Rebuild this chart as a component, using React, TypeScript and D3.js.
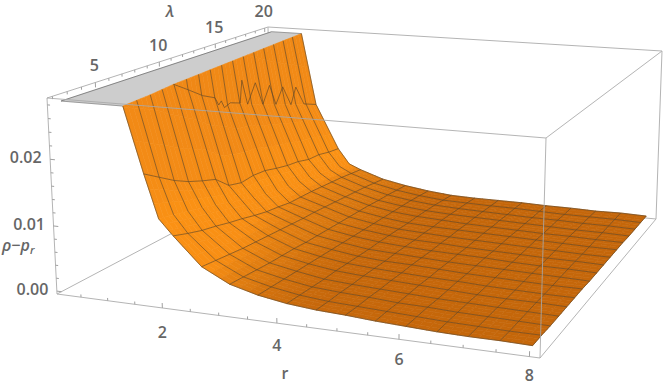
import React, { useEffect, useRef } from 'react'
import * as d3 from 'd3'

// lambda rows of the sampled surface, r columns (1.9 has no mesh line)
const lambdaValues = [2, 3.125, 4.25, 5.375, 6.5, 7.625, 8.75, 9.875, 11, 12.125, 13.25, 14.375, 15.5, 16.625, 17.75, 18.875, 20]
const rValues = [0.2, 0.69, 1.175, 1.66, 1.9, 2.15, 2.64, 3.125, 3.61, 4.1, 4.59, 5.075, 5.56, 6.05, 6.54, 7.025, 7.51, 8]

const zR020 = [0.095, 0.094, 0.093, 0.092, 0.09, 0.088, 0.086, 0.085, 0.083, 0.081, 0.08, 0.078, 0.076, 0.075, 0.074, 0.072, 0.07]
const zR069 = [0.06, 0.059, 0.058, 0.056, 0.054, 0.0566, 0.0565, 0.0522, 0.0528, 0.0479, 0.0458, 0.0436, 0.0417, 0.0401, 0.0387, 0.0373, 0.0361]
const zR118 = [0.0329, 0.0322, 0.0315, 0.0298, 0.0283, 0.0268, 0.0251, 0.0239, 0.0219, 0.0214, 0.0204, 0.0196, 0.0187, 0.0179, 0.0171, 0.0163, 0.0154]
const zR166 = [0.0188, 0.0173, 0.0158, 0.0146, 0.0137, 0.0129, 0.0109, 0.0103, 0.0105, 0.0103, 0.0097, 0.0092, 0.0089, 0.0083, 0.0082, 0.0077, 0.0074]
const zR190 = [0.0124, 0.0119, 0.0113, 0.0108, 0.0101, 0.0094, 0.0087, 0.008, 0.0076, 0.0071, 0.0068, 0.0066, 0.0063, 0.006, 0.0056, 0.0052, 0.0047]
const zR215 = [0.0101, 0.0093, 0.0086, 0.0081, 0.0075, 0.007, 0.0064, 0.0059, 0.0056, 0.0052, 0.0051, 0.005, 0.0048, 0.0046, 0.0044, 0.0041, 0.0038]
const zR264 = [0.006, 0.0057, 0.0054, 0.0051, 0.0049, 0.0047, 0.0045, 0.0043, 0.0041, 0.004, 0.0038, 0.0036, 0.0034, 0.0032, 0.003, 0.0027, 0.0024]
const zR313 = [0.0039, 0.0037, 0.0035, 0.0033, 0.0032, 0.0031, 0.0029, 0.0028, 0.0027, 0.0026, 0.0025, 0.0024, 0.0023, 0.0021, 0.002, 0.0018, 0.0016]
const zR361 = [0.0028, 0.0027, 0.0026, 0.0025, 0.0024, 0.0023, 0.0022, 0.0021, 0.002, 0.0019, 0.0018, 0.0017, 0.0016, 0.0015, 0.0014, 0.0012, 0.001]
const zR410 = [0.0021, 0.002, 0.0019, 0.0018, 0.0018, 0.0017, 0.0016, 0.0015, 0.0015, 0.0014, 0.0013, 0.0012, 0.0012, 0.0011, 0.001, 0.0008, 0.0006]
const zR459 = [0.0017, 0.0016, 0.0016, 0.0015, 0.0015, 0.0014, 0.0013, 0.0013, 0.0012, 0.0011, 0.0011, 0.001, 0.001, 0.0009, 0.0008, 0.0007, 0.0005]
const zR508 = [0.0015, 0.0014, 0.0014, 0.0013, 0.0013, 0.0012, 0.0012, 0.0011, 0.001, 0.001, 0.0009, 0.0009, 0.0008, 0.0008, 0.0007, 0.0006, 0.0005]
const zR556 = [0.0012, 0.0012, 0.0011, 0.0011, 0.0011, 0.001, 0.001, 0.0009, 0.0009, 0.0008, 0.0008, 0.0008, 0.0007, 0.0007, 0.0006, 0.0006, 0.0005]
const zR605 = [0.001, 0.001, 0.001, 0.0009, 0.0009, 0.0009, 0.0008, 0.0008, 0.0008, 0.0007, 0.0007, 0.0007, 0.0006, 0.0006, 0.0005, 0.0005, 0.0004]
const zR654 = [0.0008, 0.0008, 0.0008, 0.0008, 0.0007, 0.0007, 0.0007, 0.0007, 0.0006, 0.0006, 0.0006, 0.0006, 0.0005, 0.0005, 0.0005, 0.0004, 0.0004]
const zR703 = [0.0007, 0.0007, 0.0007, 0.0007, 0.0006, 0.0006, 0.0006, 0.0006, 0.0005, 0.0005, 0.0005, 0.0005, 0.0005, 0.0004, 0.0004, 0.0004, 0.0003]
const zR751 = [0.0007, 0.0006, 0.0006, 0.0006, 0.0006, 0.0005, 0.0005, 0.0005, 0.0005, 0.0005, 0.0004, 0.0004, 0.0004, 0.0004, 0.0004, 0.0004, 0.0004]
const zR800 = [0.0006, 0.0006, 0.0005, 0.0005, 0.0005, 0.0005, 0.0005, 0.0004, 0.0004, 0.0004, 0.0004, 0.0004, 0.0004, 0.0003, 0.0003, 0.0003, 0.0003]
const zColumns = [zR020, zR069, zR118, zR166, zR190, zR215, zR264, zR313, zR361, zR410, zR459, zR508, zR556, zR605, zR654, zR703, zR751, zR800]

// the noisy mesh line at r = 1.175, sampled finer than the grid
const jagR = 1.175
const jagLambda = [6.47, 7.54, 8.83, 9.89, 10.2, 10.44, 10.71, 11.26, 12.16, 12.36, 12.86, 13.64, 14.34, 15.04, 15.66, 16.39, 17.23, 17.78, 18.64, 20]
const jagZ = [0.0284, 0.0269, 0.025, 0.0239, 0.0225, 0.023, 0.0217, 0.0221, 0.0214, 0.0251, 0.0207, 0.0238, 0.0196, 0.0224, 0.0186, 0.0212, 0.0174, 0.0202, 0.0165, 0.0154]

const rTicks = [2, 4, 6, 8]
const rMinor = [0.5, 1, 1.5, 2.5, 3, 3.5, 4.5, 5, 5.5, 6.5, 7, 7.5]
const lambdaTicks = [5, 10, 15, 20]
const lambdaMinor = [2, 3, 4, 6, 7, 8, 9, 11, 12, 13, 14, 16, 17, 18, 19]
const zTicks = [0, 0.01, 0.02]
const zMinor = [0.002, 0.004, 0.006, 0.008, 0.012, 0.014, 0.016, 0.018, 0.022, 0.024, 0.026, 0.028]

const rDomain = [0.044, 8.156]
const lambdaDomain = [1.64, 20.36]
const zDomain = [-0.00045, 0.029]
const zClip = 0.0284

const rScale = d3.scaleLinear().domain(rDomain).range([0, 1])
const lambdaScale = d3.scaleLinear().domain(lambdaDomain).range([0, 1])
const zScale = d3.scaleLinear().domain(zDomain).range([0, 1])

// box corners on screen, keyed by [r, lambda, z] 0/1
const corners = [
  { c: [0, 0, 0], p: [57, 294] },
  { c: [1, 0, 0], p: [540, 358] },
  { c: [0, 1, 0], p: [271, 181] },
  { c: [1, 1, 0], p: [656, 219] },
  { c: [0, 0, 1], p: [47, 98] },
  { c: [1, 0, 1], p: [546, 138] },
  { c: [0, 1, 1], p: [268, 27] },
  { c: [1, 1, 1], p: [662, 51] },
]

// rational trilinear map, the weights are the camera depth of each corner
function projectUnit(x, y, z) {
  let sx = 0, sy = 0, sw = 0
  corners.forEach(({ c, p }) => {
    const w = (1 - 0.122 * c[0] + 0.27 * c[1] - 0.033 * c[2]) *
      (c[0] ? x : 1 - x) * (c[1] ? y : 1 - y) * (c[2] ? z : 1 - z)
    sx += w * p[0]
    sy += w * p[1]
    sw += w
  })
  return [sx / sw, sy / sw]
}
const project = (r, l, z) => projectUnit(rScale(r), lambdaScale(l), zScale(z))

const shade = d3.scaleLinear()
  .domain([0, 0.25, 0.7, 1.6, 4, 9, 20])
  .range(['#c4660a', '#c8690b', '#dc7a10', '#f98f14', '#fb9214', '#f28a16', '#ec8616'])
  .clamp(true)

function slopeAt(i, j) {
  const i0 = Math.max(i - 1, 0), i1 = Math.min(i + 1, rValues.length - 1)
  const j0 = Math.max(j - 1, 0), j1 = Math.min(j + 1, lambdaValues.length - 1)
  const dr = (zScale(zColumns[i1][j]) - zScale(zColumns[i0][j])) / (rScale(rValues[i1]) - rScale(rValues[i0]))
  const dl = (zScale(zColumns[i][j1]) - zScale(zColumns[i][j0])) / (lambdaScale(lambdaValues[j1]) - lambdaScale(lambdaValues[j0]))
  return Math.hypot(dr, dl)
}

function clipPolygon(points) {
  const out = []
  points.forEach((a, n) => {
    const b = points[(n + 1) % points.length]
    const aIn = a[2] <= zClip, bIn = b[2] <= zClip
    if (aIn) out.push(a)
    if (aIn !== bIn) {
      const t = (zClip - a[2]) / (b[2] - a[2])
      out.push([a[0] + t * (b[0] - a[0]), a[1] + t * (b[1] - a[1]), zClip])
    }
  })
  return out
}

function clipLine(points) {
  const segments = []
  let cur = []
  points.forEach((b, n) => {
    const a = points[n - 1]
    const bIn = b[2] <= zClip
    if (a && (a[2] <= zClip) !== bIn) {
      const t = (zClip - a[2]) / (b[2] - a[2])
      const cross = [a[0] + t * (b[0] - a[0]), a[1] + t * (b[1] - a[1]), zClip]
      cur.push(cross)
      if (!bIn) {
        segments.push(cur)
        cur = []
      }
    }
    if (bIn) cur.push(b)
  })
  if (cur.length > 1) segments.push(cur)
  return segments
}

const line = d3.line()
const toPath = pts => line(pts.map(p => project(p[0], p[1], p[2])))
const polyPath = pts => toPath(pts) + 'Z'

const App = () => {
  const d3Ref = useRef(null)

  useEffect(() => {
    const svg = d3.select(d3Ref.current)
    svg.selectAll('*').remove()

    const boxColor = '#b4b4b4'
    const drawEdge = (g, a, b, color = boxColor) => {
      g.append('path')
        .attr('d', line([projectUnit(a[0], a[1], a[2]), projectUnit(b[0], b[1], b[2])]))
        .attr('fill', 'none').attr('stroke', color).attr('stroke-width', 1)
    }

    // back of the box goes under the surface
    const back = svg.append('g')
    drawEdge(back, [0, 0, 0], [0, 1, 0])
    drawEdge(back, [0, 1, 0], [1, 1, 0])
    drawEdge(back, [0, 1, 0], [0, 1, 1])
    drawEdge(back, [0, 1, 1], [1, 1, 1])
    drawEdge(back, [1, 1, 0], [1, 1, 1])
    drawEdge(back, [0, 0, 0], [1, 0, 0])
    drawEdge(back, [0, 0, 0], [0, 0, 1])
    drawEdge(back, [0, 0, 1], [0, 1, 1])
    drawEdge(back, [1, 0, 0], [1, 1, 0])
    drawEdge(back, [1, 0, 1], [1, 1, 1])

    // ticks
    const ticks = svg.append('g').attr('stroke', '#a0a0a0').attr('stroke-width', 1)
    const tick = (a, b) => ticks.append('path').attr('d', toPath([a, b]))
    const zLow = zDomain[0], zHigh = zDomain[1], rLow = rDomain[0], lLow = lambdaDomain[0]
    rTicks.forEach(r => tick([r, lLow, zLow], [r, lLow, zLow + 0.00075]))
    rMinor.forEach(r => tick([r, lLow, zLow], [r, lLow, zLow + 0.00042]))
    lambdaTicks.forEach(l => tick([rLow, l, zHigh], [rLow, l, zHigh - 0.00075]))
    lambdaMinor.forEach(l => tick([rLow, l, zHigh], [rLow, l, zHigh - 0.00042]))
    zTicks.forEach(z => tick([rLow, lLow, z], [rLow + 0.09, lLow, z]))
    zMinor.forEach(z => tick([rLow, lLow, z], [rLow + 0.05, lLow, z]))

    // clipped top of the surface
    const crossings = lambdaValues.map((l, j) => {
      const i = rValues.findIndex((r, n) => zColumns[n][j] >= zClip && zColumns[n + 1][j] < zClip)
      const t = (zClip - zColumns[i][j]) / (zColumns[i + 1][j] - zColumns[i][j])
      return [rValues[i] + t * (rValues[i + 1] - rValues[i]), l, zClip]
    })
    const rFirst = rValues[0]
    const lFirst = lambdaValues[0]
    const lLast = lambdaValues[lambdaValues.length - 1]
    const grayOutline = [[rFirst, lFirst, zClip], [rFirst, lLast, zClip], ...crossings.slice().reverse()]
    svg.append('path').attr('d', polyPath(grayOutline))
      .attr('fill', '#cdcdcd').attr('stroke', '#cdcdcd').attr('stroke-width', 0.5)

    // surface, far cells first, each cell split so the shading runs smooth
    const surface = svg.append('g')
    const n = 3
    for (let j = lambdaValues.length - 2; j >= 0; j--) {
      for (let i = 0; i < rValues.length - 1; i++) {
        const s00 = slopeAt(i, j), s10 = slopeAt(i + 1, j), s01 = slopeAt(i, j + 1), s11 = slopeAt(i + 1, j + 1)
        const at = (u, v) => {
          const r = rValues[i] + u * (rValues[i + 1] - rValues[i])
          const l = lambdaValues[j] + v * (lambdaValues[j + 1] - lambdaValues[j])
          const z = (1 - v) * ((1 - u) * zColumns[i][j] + u * zColumns[i + 1][j]) +
            v * ((1 - u) * zColumns[i][j + 1] + u * zColumns[i + 1][j + 1])
          return [r, l, z]
        }
        for (let b = n - 1; b >= 0; b--) {
          for (let a = 0; a < n; a++) {
            const u0 = a / n, u1 = (a + 1) / n, v0 = b / n, v1 = (b + 1) / n
            const poly = clipPolygon([at(u0, v0), at(u1, v0), at(u1, v1), at(u0, v1)])
            if (poly.length < 3) continue
            const um = (u0 + u1) / 2, vm = (v0 + v1) / 2
            const s = (1 - vm) * ((1 - um) * s00 + um * s10) + vm * ((1 - um) * s01 + um * s11)
            const fill = shade(s)
            surface.append('path').attr('d', polyPath(poly))
              .attr('fill', fill).attr('stroke', fill).attr('stroke-width', 0.6)
          }
        }
      }
    }

    // mesh
    const mesh = svg.append('g').attr('fill', 'none')
      .attr('stroke', '#5f4526').attr('stroke-opacity', 0.85).attr('stroke-width', 0.75)
    const drawLine = pts => clipLine(pts).forEach(seg => mesh.append('path').attr('d', toPath(seg)))
    lambdaValues.forEach((l, j) => {
      drawLine(rValues.map((r, i) => [r, l, zColumns[i][j]]))
    })
    rValues.forEach((r, i) => {
      if (r === 1.9 || r === jagR || i === 0) return
      drawLine(lambdaValues.map((l, j) => [r, l, zColumns[i][j]]))
    })
    drawLine(jagLambda.map((l, k) => [jagR, l, jagZ[k]]))
    mesh.append('path').attr('d', toPath([[rFirst, lFirst, zClip], [rFirst, lLast, zClip]])).attr('stroke', '#555')
    mesh.append('path').attr('d', toPath([[rFirst, lFirst, zClip], crossings[0]])).attr('stroke', '#777')
    mesh.append('path').attr('d', toPath([[rFirst, lLast, zClip], crossings[crossings.length - 1]])).attr('stroke', '#777')

    // front edges stay visible over the surface
    const front = svg.append('g').attr('opacity', 0.85)
    drawEdge(front, [0, 0, 1], [1, 0, 1], '#a8a8a8')
    drawEdge(front, [1, 0, 0], [1, 0, 1], '#a8a8a8')

    // labels
    const labels = svg.append('g')
      .attr('font-family', '"Open Sans", sans-serif')
      .attr('font-size', 16).attr('font-weight', 600).attr('fill', '#666666')
    const rOffset = d3.scaleLinear().domain([2, 8]).range([24, 18.5])
    rTicks.forEach(r => {
      const [x, y] = project(r, lLow, zLow)
      labels.append('text').attr('x', x).attr('y', y + rOffset(r)).attr('dy', '0.36em')
        .attr('text-anchor', 'middle').text(r)
    })
    lambdaTicks.forEach(l => {
      const [x, y] = project(rLow, l, zHigh)
      labels.append('text').attr('x', x - 1).attr('y', y - 17).attr('dy', '0.36em')
        .attr('text-anchor', 'middle').text(l)
    })
    zTicks.forEach(z => {
      const [x, y] = project(rLow, lLow, z)
      labels.append('text').attr('x', x - 8.5).attr('y', y - 2).attr('dy', '0.36em')
        .attr('text-anchor', 'end').text(z.toFixed(2))
    })
    labels.append('text').attr('x', 285).attr('y', 373).attr('dy', '0.36em')
      .attr('text-anchor', 'middle').text('r')
    labels.append('text').attr('x', 170).attr('y', 11).attr('dy', '0.36em')
      .attr('text-anchor', 'middle').attr('font-style', 'italic').text('λ')
    const yLabel = labels.append('text').attr('x', 2).attr('y', 245).attr('dy', '0.36em').attr('font-size', 16)
    yLabel.append('tspan').attr('font-style', 'italic').text('ρ')
    yLabel.append('tspan').text('−')
    yLabel.append('tspan').attr('font-style', 'italic').text('p')
    yLabel.append('tspan').attr('font-style', 'italic').attr('font-size', 11).attr('dy', 3).text('r')
  }, [])

  return <svg ref={d3Ref} width={664} height={385} style={{ position: 'absolute', left: 0, top: 0, display: 'block', background: '#fff' }} />
}

export default App
